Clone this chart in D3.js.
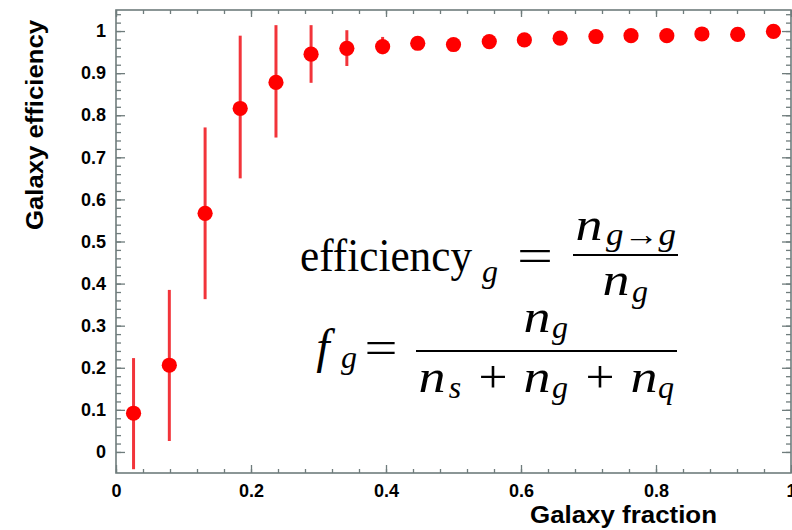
<!DOCTYPE html>
<html>
<head>
<meta charset="utf-8">
<script src="https://cdn.jsdelivr.net/npm/d3@7/dist/d3.min.js"></script>
<style>
  html, body { margin: 0; padding: 0; background: #fff; }
  svg { display: block; }
  .tick text { font-family: "Liberation Sans", Arial, sans-serif; font-weight: bold; font-size: 18px; fill: #000; }
  .tick line { stroke: #6f7c7c; stroke-width: 1.3; }
  .domain { display: none; }
  .math { font-family: "Liberation Serif", "Times New Roman", serif; fill: #000; }
</style>
</head>
<body>
<svg id="chart" width="792" height="530"></svg>
<script>
// Galaxy fraction bins (bin centres)
const galaxyFraction = [0.026, 0.079, 0.132, 0.184, 0.237, 0.289, 0.342, 0.395, 0.447, 0.500,
                        0.553, 0.605, 0.658, 0.711, 0.763, 0.816, 0.868, 0.921, 0.974];
// Measured galaxy efficiency per bin
const efficiency = [0.092, 0.206, 0.567, 0.816, 0.878, 0.945, 0.959, 0.963, 0.971, 0.968,
                    0.975, 0.979, 0.983, 0.987, 0.989, 0.989, 0.993, 0.992, 0.999];
// Upper and lower ends of the error bars
const errUpper = [0.223, 0.385, 0.771, 0.989, 1.014, 1.014, 1.002, 0.986, 0.982, 0.979,
                  0.985, 0.988, 0.991, 0.994, 0.995, 0.995, 0.997, 0.996, 1.002];
const errLower = [-0.041, 0.026, 0.363, 0.650, 0.747, 0.877, 0.917, 0.945, 0.960, 0.957,
                  0.965, 0.970, 0.975, 0.980, 0.983, 0.983, 0.989, 0.988, 0.996];

// Axis ticks and labels
const xMajorTicks = [0, 0.2, 0.4, 0.6, 0.8, 1];
const xTickLabels = ["0", "0.2", "0.4", "0.6", "0.8", "1"];
const yMajorTicks = [0, 0.1, 0.2, 0.3, 0.4, 0.5, 0.6, 0.7, 0.8, 0.9, 1];
const yTickLabels = ["0", "0.1", "0.2", "0.3", "0.4", "0.5", "0.6", "0.7", "0.8", "0.9", "1"];
const xTitle = "Galaxy fraction";
const yTitle = "Galaxy efficiency";

const points = galaxyFraction.map((f, i) => ({
  x: f, y: efficiency[i], lo: errLower[i], hi: errUpper[i]
}));

const svg = d3.select("#chart");
const plotLeft = 116, plotRight = 791, plotTop = 10, plotBottom = 473;

const x = d3.scaleLinear().domain([0, 1]).range([plotLeft, plotRight]);
const y = d3.scaleLinear().domain([-0.05, 1.05]).range([plotBottom, plotTop]);

const xMinor = d3.range(0, 1.0001, 0.04).map(v => +v.toFixed(2));
const yMinor = d3.range(0, 1.041, 0.02).map(v => +v.toFixed(2));

// Frame
svg.append("rect")
  .attr("x", plotLeft).attr("y", plotTop)
  .attr("width", plotRight - plotLeft).attr("height", plotBottom - plotTop)
  .attr("fill", "none").attr("stroke", "#6f7c7c").attr("stroke-width", 1.6);

// Left axis: major with labels, minor without
svg.append("g").attr("transform", `translate(${plotLeft},0)`)
  .call(d3.axisLeft(y).tickValues(yMinor).tickSize(-5).tickFormat(""));
svg.append("g").attr("transform", `translate(${plotLeft},0)`)
  .call(d3.axisLeft(y).tickValues(yMajorTicks).tickSize(-9).tickPadding(10)
    .tickFormat((d, i) => yTickLabels[i]));

// Right axis (ticks only)
svg.append("g").attr("transform", `translate(${plotRight},0)`)
  .call(d3.axisRight(y).tickValues(yMinor).tickSize(-5).tickFormat(""));
svg.append("g").attr("transform", `translate(${plotRight},0)`)
  .call(d3.axisRight(y).tickValues(yMajorTicks).tickSize(-9).tickFormat(""));

// Bottom axis
svg.append("g").attr("transform", `translate(0,${plotBottom})`)
  .call(d3.axisBottom(x).tickValues(xMinor).tickSize(-4).tickFormat(""));
svg.append("g").attr("transform", `translate(0,${plotBottom})`)
  .call(d3.axisBottom(x).tickValues(xMajorTicks).tickSize(-8).tickPadding(11)
    .tickFormat((d, i) => xTickLabels[i]));

// Top axis (ticks only)
svg.append("g").attr("transform", `translate(0,${plotTop})`)
  .call(d3.axisTop(x).tickValues(xMinor).tickSize(-4).tickFormat(""));
svg.append("g").attr("transform", `translate(0,${plotTop})`)
  .call(d3.axisTop(x).tickValues(xMajorTicks).tickSize(-7).tickFormat(""));

// Axis titles
svg.append("text")
  .attr("x", 530).attr("y", 523)
  .attr("textLength", 187).attr("lengthAdjust", "spacingAndGlyphs")
  .style("font-family", "Liberation Sans, Arial, sans-serif")
  .style("font-size", "23px").style("font-weight", "bold")
  .text(xTitle);

svg.append("text")
  .attr("transform", "translate(43,230) rotate(-90)")
  .attr("x", 0).attr("y", 0)
  .attr("textLength", 210).attr("lengthAdjust", "spacingAndGlyphs")
  .style("font-family", "Liberation Sans, Arial, sans-serif")
  .style("font-size", "23px").style("font-weight", "bold")
  .text(yTitle);

// Error bars
svg.append("g").selectAll("line")
  .data(points)
  .join("line")
  .attr("x1", d => x(d.x)).attr("x2", d => x(d.x))
  .attr("y1", d => y(d.lo)).attr("y2", d => y(d.hi))
  .attr("stroke", "#f2343a").attr("stroke-width", 3);

// Markers
svg.append("g").selectAll("circle")
  .data(points)
  .join("circle")
  .attr("cx", d => x(d.x)).attr("cy", d => y(d.y))
  .attr("r", 7.6)
  .attr("fill", "#ff0000");

// Formula annotations: each glyph group centred on its own slot
const math = svg.append("g").attr("class", "math");
function piece(t, cx, py, size, italic, len) {
  const el = math.append("text")
    .attr("x", cx).attr("y", py)
    .attr("text-anchor", "middle")
    .style("font-size", size + "px")
    .style("font-style", italic ? "italic" : "normal")
    .text(t);
  if (len) el.attr("textLength", len).attr("lengthAdjust", "spacingAndGlyphs");
  return el;
}
function bar(x1, x2, yy) {
  math.append("line").attr("x1", x1).attr("x2", x2).attr("y1", yy).attr("y2", yy)
    .attr("stroke", "#000").attr("stroke-width", 1.8);
}
const S = 46, s = 32, nW = 27, plusW = 29;

// efficiency_g = n_{g→g} / n_g
piece("efficiency", 386, 271, S, false, 172);
piece("g", 490, 282, s, true);
piece("=", 535, 271, S, false, 36);
bar(573, 678, 255);
piece("n", 589, 240, S, true, nW);
piece("g\u2192g", 641, 245, s, true, 70);
piece("n", 616, 295, S, true, nW);
piece("g", 640, 302, s, true);

// f_g = n_g / (n_s + n_g + n_q)
piece("f", 323, 363, S + 2, true);
piece("g", 349, 368, s, true);
piece("=", 381, 363, S, false, 33);
bar(416, 677, 351);
piece("n", 537, 332, S, true, nW);
piece("g", 560, 338, s, true);
piece("n", 432, 392, S, true, nW);
piece("s", 455, 398, s, true);
piece("+", 493, 392, S, false, plusW);
piece("n", 537, 392, S, true, nW);
piece("g", 560, 398, s, true);
piece("+", 600, 392, S, false, plusW);
piece("n", 644, 392, S, true, nW);
piece("q", 666, 398, s, true);
</script>
</body>
</html>
